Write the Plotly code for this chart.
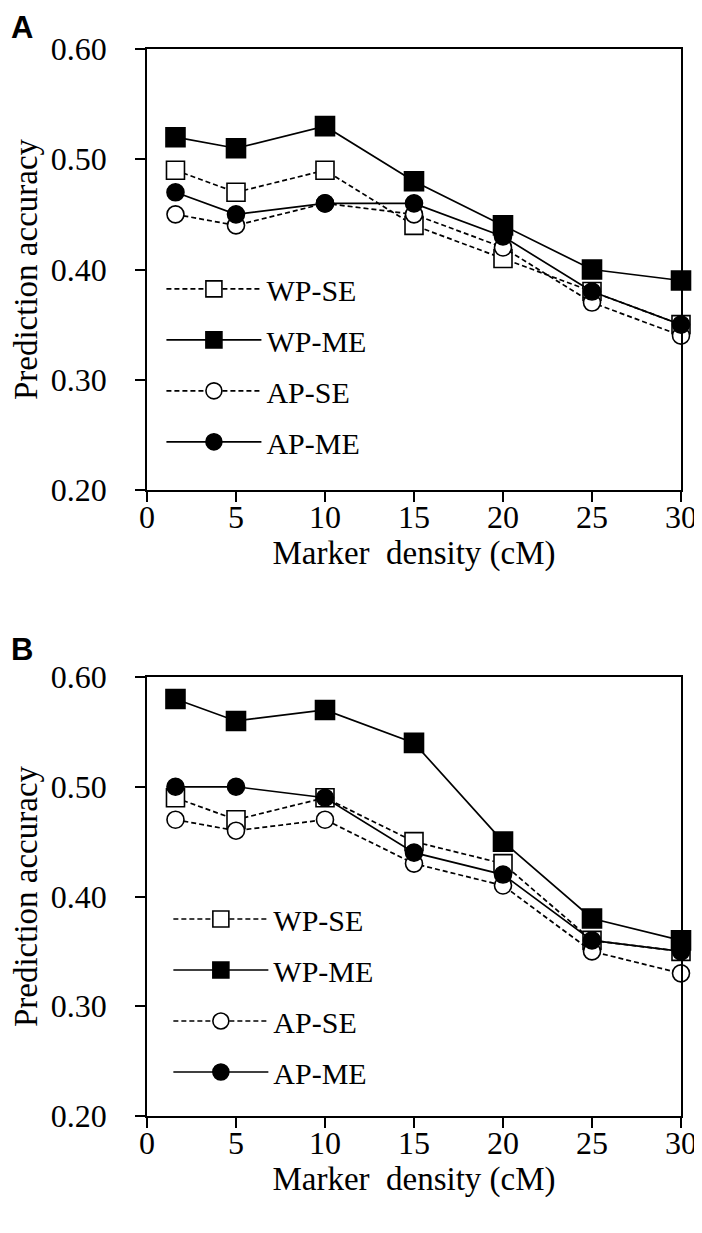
import plotly.graph_objects as go

# ---------------- data ----------------
marker_density = [1.6, 5, 10, 15, 20, 25, 30]
series_names = ["WP-SE", "WP-ME", "AP-SE", "AP-ME"]

# Panel A
a_wp_se = [0.49, 0.47, 0.49, 0.44, 0.41, 0.38, 0.35]
a_wp_me = [0.52, 0.51, 0.53, 0.48, 0.44, 0.40, 0.39]
a_ap_se = [0.45, 0.44, 0.46, 0.45, 0.42, 0.37, 0.34]
a_ap_me = [0.47, 0.45, 0.46, 0.46, 0.43, 0.38, 0.35]

# Panel B
b_wp_se = [0.49, 0.47, 0.49, 0.45, 0.43, 0.36, 0.35]
b_wp_me = [0.58, 0.56, 0.57, 0.54, 0.45, 0.38, 0.36]
b_ap_se = [0.47, 0.46, 0.47, 0.43, 0.41, 0.35, 0.33]
b_ap_me = [0.50, 0.50, 0.49, 0.44, 0.42, 0.36, 0.35]

y_ticks = [0.20, 0.30, 0.40, 0.50, 0.60]
x_ticks = [0, 5, 10, 15, 20, 25, 30]

# ---------------- styles ----------------
SERIF = "Liberation Serif, Times New Roman, serif"
SANS = "Liberation Sans, Arial, sans-serif"
styles = {
    "WP-SE": dict(symbol="square", fill="white", dash="5px,3px", size=18),
    "WP-ME": dict(symbol="square", fill="black", dash="solid", size=19),
    "AP-SE": dict(symbol="circle", fill="white", dash="5px,3px", size=17),
    "AP-ME": dict(symbol="circle", fill="black", dash="solid", size=17),
}

fig = go.Figure()

def add_panel(values, xa, ya, legend_name):
    for name, yv in zip(series_names, values):
        s = styles[name]
        fig.add_trace(go.Scatter(
            x=marker_density, y=yv, name=name, mode="lines+markers",
            xaxis=xa, yaxis=ya, legend=legend_name, legendgroup=legend_name + name,
            line=dict(color="black", width=1.7, dash=s["dash"]),
            marker=dict(symbol=s["symbol"], size=s["size"], color=s["fill"],
                        line=dict(color="black", width=1.6)),
            cliponaxis=False,
        ))

add_panel([a_wp_se, a_wp_me, a_ap_se, a_ap_me], "x", "y", "legend")
add_panel([b_wp_se, b_wp_me, b_ap_se, b_ap_me], "x2", "y2", "legend2")

axis_common = dict(showline=True, linecolor="black", linewidth=1.5, mirror=True,
                   showgrid=False, zeroline=False, ticks="outside", ticklen=10,
                   tickwidth=1.5, tickcolor="black", automargin=False,
                   tickfont=dict(family=SERIF, size=32, color="black"))

xa = dict(axis_common, range=[0, 30], tickvals=x_ticks, ticklabelstandoff=-12,
          title=dict(text="Marker\u00a0 density\u00a0(cM)",
                     font=dict(family=SERIF, size=33, color="black"), standoff=2))
ya = dict(axis_common, range=[0.2, 0.6], tickvals=y_ticks, tickformat=".2f",
          ticklabelstandoff=22,
          title=dict(text="Prediction accuracy",
                     font=dict(family=SERIF, size=33, color="black"), standoff=21))

dom_a = [0.5867, 1.0]
dom_b = [0.0, 0.4114]

legend_common = dict(font=dict(family=SERIF, size=30, color="black"),
                     bgcolor="rgba(0,0,0,0)", itemwidth=95, tracegroupgap=9,
                     xanchor="left", yanchor="top", traceorder="grouped",
                     itemclick=False)

# the page body adds an 8px offset, so the figure is drawn 8px smaller
fig.update_layout(
    width=694, height=1225,
    margin=dict(l=139, r=21, t=41, b=117),
    paper_bgcolor="white", plot_bgcolor="white",
    showlegend=True,
    xaxis=dict(xa, anchor="y", domain=[0, 1]),
    yaxis=dict(ya, anchor="x", domain=dom_a),
    xaxis2=dict(xa, anchor="y2", domain=[0, 1]),
    yaxis2=dict(ya, anchor="x2", domain=dom_b),
    legend=dict(legend_common, x=0.027, y=0.7996),
    legend2=dict(legend_common, x=0.040, y=0.209),
    annotations=[
        dict(text="<b>A</b>", x=-0.2585, y=1.0384, xref="paper", yref="paper",
             xanchor="left", yanchor="top", showarrow=False,
             font=dict(family=SANS, size=31, color="black")),
        dict(text="<b>B</b>", x=-0.2585, y=0.4376, xref="paper", yref="paper",
             xanchor="left", yanchor="middle", showarrow=False,
             font=dict(family=SANS, size=31, color="black")),
    ],
)

fig.write_html("out.html")
